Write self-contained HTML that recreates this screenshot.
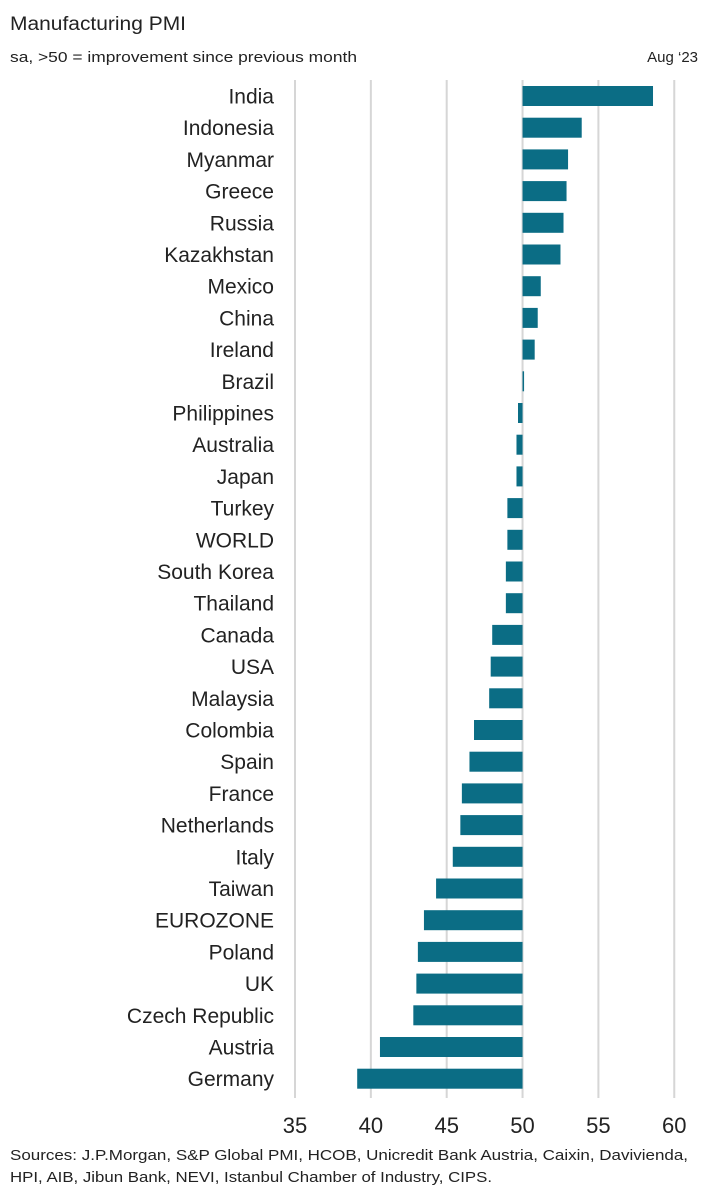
<!DOCTYPE html>
<html><head><meta charset="utf-8"><style>
body{margin:0;background:#fff;font-family:"Liberation Sans",sans-serif;}
#w{position:relative;width:712px;height:1200px;overflow:hidden}
</style></head><body>
<div id="w">
<svg id="s" width="712" height="1200">
<text x="10" y="30" font-size="19" fill="#222" textLength="176" lengthAdjust="spacingAndGlyphs">Manufacturing PMI</text>
<text x="10" y="62" font-size="15" fill="#222" textLength="347" lengthAdjust="spacingAndGlyphs">sa, &gt;50 = improvement since previous month</text>
<text x="698" y="62" font-size="15" fill="#222" text-anchor="end">Aug ‘23</text>
<g id="grid"></g><g id="bars"></g><g id="labels"></g><g id="ticks"></g>
<text x="10" y="1160" font-size="15" fill="#222" textLength="678" lengthAdjust="spacingAndGlyphs">Sources: J.P.Morgan, S&amp;P Global PMI, HCOB, Unicredit Bank Austria, Caixin, Davivienda,</text>
<text x="10" y="1182" font-size="15" fill="#222" textLength="482" lengthAdjust="spacingAndGlyphs">HPI, AIB, Jibun Bank, NEVI, Istanbul Chamber of Industry, CIPS.</text>
</svg></div>
<script>
const countries=["India","Indonesia","Myanmar","Greece","Russia","Kazakhstan","Mexico","China","Ireland","Brazil","Philippines","Australia","Japan","Turkey","WORLD","South Korea","Thailand","Canada","USA","Malaysia","Colombia","Spain","France","Netherlands","Italy","Taiwan","EUROZONE","Poland","UK","Czech Republic","Austria","Germany"];
const values=[58.6,53.9,53.0,52.9,52.7,52.5,51.2,51.0,50.8,50.1,49.7,49.6,49.6,49.0,49.0,48.9,48.9,48.0,47.9,47.8,46.8,46.5,46.0,45.9,45.4,44.3,43.5,43.1,43.0,42.8,40.6,39.1];
const ticks=[35,40,45,50,55,60];
const NS="http://www.w3.org/2000/svg";
const x=v=>295+(v-35)*15.17;
const y=i=>96+i*31.7;
function mk(t,a,p){const e=document.createElementNS(NS,t);for(const k in a)e.setAttribute(k,a[k]);p.appendChild(e);return e;}
const G=document.getElementById('grid'),B=document.getElementById('bars'),L=document.getElementById('labels'),T=document.getElementById('ticks');
ticks.forEach(t=>{
 const l=mk('line',{x1:x(t),x2:x(t),y1:80,y2:1098,stroke:'#d6d6d6','stroke-width':2},G);
 
 
 const tx=mk('text',{x:x(t),y:1133,'font-size':22,'text-anchor':'middle',fill:'#222'},T);
 tx.textContent=t;
 
 
});
countries.forEach((c,i)=>{
 const v=values[i],a=x(Math.min(v,50)),b=x(Math.max(v,50));
 const r=mk('rect',{x:a,y:y(i)-10,width:Math.max(b-a,1),height:20,fill:'#0b6d85'},B);
 
 
 const t=mk('text',{x:274,y:y(i)+7.5,'font-size':21,'text-anchor':'end',fill:'#222'},L);
 t.textContent=c;
 
 
});
</script></body></html>
